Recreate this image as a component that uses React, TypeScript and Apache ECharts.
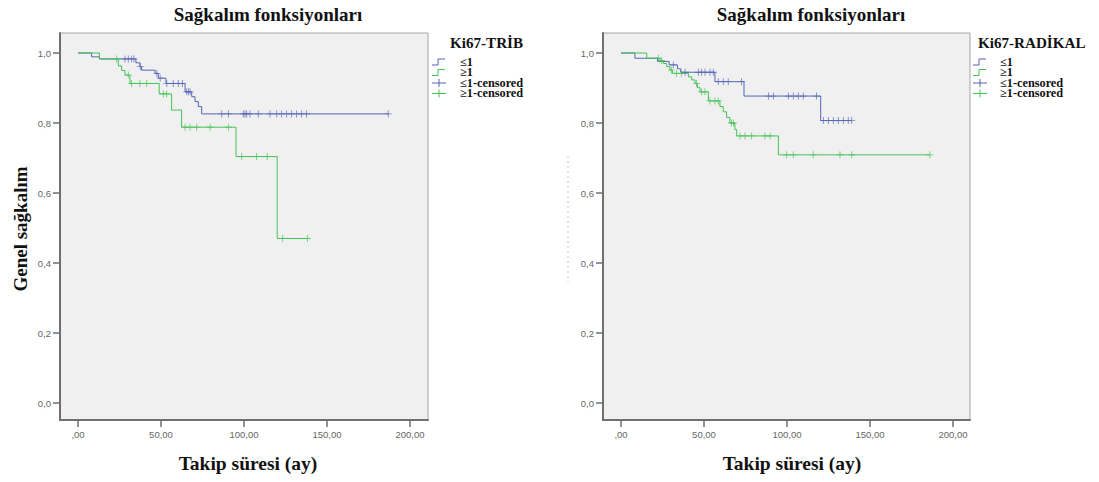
import React, { useEffect, useRef } from "react";
import * as echarts from "echarts";

const xTicks = [0, 50, 100, 150, 200];
const yTicks = [0, 0.2, 0.4, 0.6, 0.8, 1.0];

// Left: Ki67-TRİB
const tribLowTimes = [0, 8.2, 12.9, 34.9, 37.3, 38.3, 46.4, 48.4, 53, 64.5, 68.5, 70.5, 72.5, 74.5, 186.9];
const tribLowSurv = [1, 0.989, 0.983, 0.972, 0.961, 0.951, 0.942, 0.928, 0.913, 0.889, 0.875, 0.861, 0.847, 0.826, 0.826];
const tribLowCensored = [28.3, 30.3, 32.3, 33.7, 37.5, 47.5, 49.5, 53.5, 57.4, 60.4, 62.9, 65.5, 66.5, 67.5, 86.6, 90.6, 99.6, 100.6, 101.6, 103.6, 108.6, 115.7, 119.7, 122.7, 125.7, 128.7, 131.7, 134.7, 137.7, 186.9];
const tribHighTimes = [0, 12.9, 24.3, 26.3, 28.3, 31.3, 48.9, 56.4, 62.4, 95.2, 120, 138.2];
const tribHighSurv = [1, 0.983, 0.963, 0.95, 0.937, 0.913, 0.883, 0.837, 0.788, 0.704, 0.47, 0.47];
const tribHighCensored = [23.3, 30.3, 32.3, 37.3, 41.4, 51.4, 53.4, 64.5, 67.5, 71.5, 79.6, 90.6, 98.6, 107.6, 114, 123.3, 138.2];

// Right: Ki67-RADİKAL
const radLowTimes = [0, 8.4, 22, 29, 34, 36, 56.6, 74.1, 120.3, 139];
const radLowSurv = [1, 0.985, 0.976, 0.966, 0.955, 0.945, 0.918, 0.877, 0.807, 0.807];
const radLowCensored = [31.5, 38.6, 46.6, 48.6, 50.6, 53.6, 55.6, 58.6, 61.6, 64.6, 72.6, 88.8, 91.8, 100.8, 103.8, 106.8, 109.8, 117.8, 121.9, 124.9, 127.9, 130.9, 133.9, 136.9, 139];
const radHighTimes = [0, 15.5, 23.5, 25.5, 27.5, 29.5, 31, 40.6, 42.6, 44.6, 46, 47.6, 52.6, 59.6, 61.6, 63.6, 65.6, 68.6, 69.7, 94.8, 186.1];
const radHighSurv = [1, 0.985, 0.978, 0.97, 0.961, 0.951, 0.942, 0.932, 0.923, 0.913, 0.901, 0.889, 0.863, 0.847, 0.832, 0.816, 0.8, 0.781, 0.763, 0.709, 0.709];
const radHighCensored = [22.5, 24.5, 30.5, 33.5, 36.5, 45.5, 48.6, 50.6, 53.6, 56.6, 58.6, 66.6, 67.7, 71.7, 74.7, 78.7, 86.7, 89.8, 99.8, 103.8, 115.8, 131.9, 139, 186.1];

const legendLabels = ["≤1", "≥1", "≤1-censored", "≥1-censored"];
const chartTitle = "Sağkalım fonksiyonları";
const xName = "Takip süresi (ay)";
const yName = "Genel sağkalım";
const leftLegendTitle = "Ki67-TRİB";
const rightLegendTitle = "Ki67-RADİKAL";

const BLUE = "#5565b6";
const GREEN = "#45c257";
const SERIF = "'Liberation Serif', 'Times New Roman', serif";
const SANS = "Arial, 'Liberation Sans', sans-serif";
const PLUS = "path://M4.4,0h1.2v10h-1.2z M0,4.4h10v1.2h-10z";

const survAt = (times: number[], surv: number[], t: number) => {
  let s = surv[0];
  for (let i = 0; i < times.length; i++) {
    if (times[i] <= t) s = surv[i];
  }
  return s;
};

const fmtX = (v: number) => (v === 0 ? ",00" : v.toFixed(2).replace(".", ","));
const fmtY = (v: number) => (v === 0 ? "0,0" : v.toFixed(1).replace(".", ","));

const GRID_TOP = 33;
const GRID_H = 387;
const grids = [
  { left: 60, width: 368 },
  { left: 603, width: 367 },
];

export default function App() {
  const ref = useRef<HTMLDivElement>(null);
  useEffect(() => {
    if (!ref.current) return;
    const chart = echarts.init(ref.current, null, { renderer: "svg" });

    const xAxis = grids.map((g, i) => {
      const pxPerUnit = 83 / 50;
      const min = -18 / pxPerUnit;
      const max = min + g.width / pxPerUnit;
      return {
        type: "value",
        gridIndex: i,
        min,
        max,
        axisLine: { show: true, onZero: false, lineStyle: { color: "#6f6f6f", width: 2 } },
        axisTick: { show: true, customValues: xTicks, length: 7, lineStyle: { color: "#6f6f6f", width: 1.5 } },
        axisLabel: { customValues: xTicks, formatter: fmtX, color: "#666", fontSize: 9.5, fontFamily: SANS, margin: 9 },
        splitLine: { show: false },
      };
    });
    const yAxis = grids.map((g, i) => ({
      type: "value",
      gridIndex: i,
      min: -17 / 350,
      max: -17 / 350 + GRID_H / 350,
      axisLine: { show: true, onZero: false, lineStyle: { color: "#6f6f6f", width: 2 } },
      axisTick: { show: true, customValues: yTicks, length: 7, lineStyle: { color: "#6f6f6f", width: 1.5 } },
      axisLabel: { customValues: yTicks, formatter: fmtY, color: "#666", fontSize: 9.5, fontFamily: SANS, margin: 9 },
      splitLine: { show: false },
    }));

    const stepSeries = (times: number[], surv: number[], color: string, idx: number) => ({
      type: "line",
      xAxisIndex: idx,
      yAxisIndex: idx,
      step: "end",
      symbol: "none",
      lineStyle: { color, width: 1 },
      data: times.map((t, k) => [t, surv[k]]),
      z: 3,
    });
    const censSeries = (times: number[], surv: number[], cens: number[], color: string, idx: number) => ({
      type: "scatter",
      xAxisIndex: idx,
      yAxisIndex: idx,
      symbol: PLUS,
      symbolSize: 7,
      itemStyle: { color },
      data: cens.map((t) => [t, survAt(times, surv, t)]),
      z: 4,
    });

    const legendGraphic = (x: number, titleX: number, textX: number, title: string) => {
      const els: any[] = [
        {
          type: "text",
          x: titleX,
          y: 43,
          scaleX: 1.08,
          style: { text: title, font: `bold 14px ${SERIF}`, fill: "#111", verticalAlign: "middle" },
        },
      ];
      const rows = [62, 72.5, 83, 93.5];
      const colors = [BLUE, GREEN, BLUE, GREEN];
      rows.forEach((y, k) => {
        if (k < 2) {
          els.push({
            type: "polyline",
            shape: { points: [[x, y + 3], [x + 6, y + 3], [x + 6, y - 3], [x + 13, y - 3]] },
            style: { stroke: colors[k], lineWidth: 1, fill: null },
          });
        } else {
          els.push({ type: "line", shape: { x1: x, y1: y, x2: x + 14, y2: y }, style: { stroke: colors[k], lineWidth: 1 } });
          els.push({ type: "line", shape: { x1: x + 7, y1: y - 4, x2: x + 7, y2: y + 4 }, style: { stroke: colors[k], lineWidth: 1 } });
        }
        els.push({
          type: "text",
          x: textX,
          y,
          scaleX: 1.07,
          style: { text: legendLabels[k], font: `bold 11.5px ${SERIF}`, fill: "#111", verticalAlign: "middle" },
        });
      });
      return els;
    };

    const texts: any[] = [
      { type: "text", x: 268, y: 14, style: { text: chartTitle, font: `bold 19px ${SERIF}`, fill: "#111", align: "center", verticalAlign: "middle" } },
      { type: "text", x: 811, y: 14, style: { text: chartTitle, font: `bold 19px ${SERIF}`, fill: "#111", align: "center", verticalAlign: "middle" } },
      { type: "text", x: 248, y: 463, style: { text: xName, font: `bold 19.5px ${SERIF}`, fill: "#111", align: "center", verticalAlign: "middle" } },
      { type: "text", x: 792, y: 463, style: { text: xName, font: `bold 19.5px ${SERIF}`, fill: "#111", align: "center", verticalAlign: "middle" } },
      { type: "text", x: 20, y: 229, rotation: Math.PI / 2, style: { text: yName, font: `bold 19px ${SERIF}`, fill: "#111", align: "center", verticalAlign: "middle" } },
      { type: "line", shape: { x1: 568, y1: 156, x2: 568, y2: 282 }, style: { stroke: "#c4c4c4", lineWidth: 1, lineDash: [2, 3] } },
      ...legendGraphic(432, 450, 460, leftLegendTitle),
      ...legendGraphic(973, 978, 1000, rightLegendTitle),
    ];

    chart.setOption({
      animation: false,
      backgroundColor: "#ffffff",
      grid: grids.map((g) => ({
        left: g.left,
        top: GRID_TOP,
        width: g.width,
        height: GRID_H,
        show: true,
        backgroundColor: "#f0f0f0",
        borderColor: "#a5a5a5",
        borderWidth: 1,
        containLabel: false,
      })),
      xAxis,
      yAxis,
      series: [
        stepSeries(tribLowTimes, tribLowSurv, BLUE, 0),
        stepSeries(tribHighTimes, tribHighSurv, GREEN, 0),
        censSeries(tribLowTimes, tribLowSurv, tribLowCensored, BLUE, 0),
        censSeries(tribHighTimes, tribHighSurv, tribHighCensored, GREEN, 0),
        stepSeries(radLowTimes, radLowSurv, BLUE, 1),
        stepSeries(radHighTimes, radHighSurv, GREEN, 1),
        censSeries(radLowTimes, radLowSurv, radLowCensored, BLUE, 1),
        censSeries(radHighTimes, radHighSurv, radHighCensored, GREEN, 1),
      ],
      graphic: texts,
    });
    return () => chart.dispose();
  }, []);
  return <div ref={ref} style={{ position: "fixed", left: 0, top: 0, width: 1099, height: 482 }} />;
}
